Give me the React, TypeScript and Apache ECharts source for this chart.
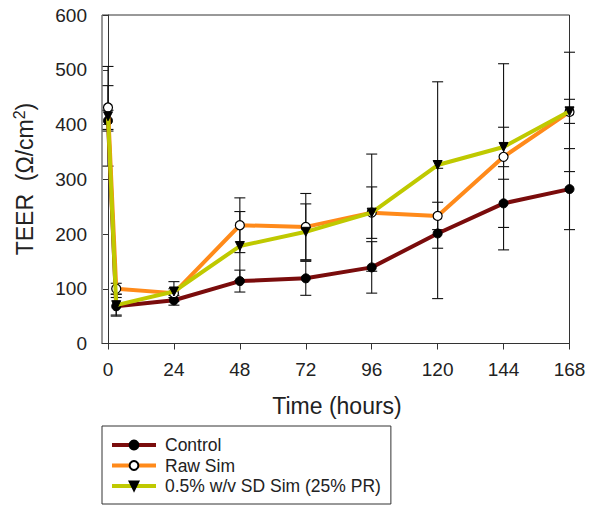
import React, { useEffect, useRef } from "react";
import * as echarts from "echarts";

const times = [0, 3, 24, 48, 72, 96, 120, 144, 168];
const xTicks = [0, 24, 48, 72, 96, 120, 144, 168];

const controlMean = [407, 68, 79, 114, 119, 139, 201, 256, 282];
const controlErr = [19, 16, 9, 20, 31, 47, 119, 44, 74];

const rawMean = [431, 100, 92, 216, 213, 239, 233, 341, 423];
const rawErr = [40, 10, 8, 50, 61, 47, 25, 170, 109];

const sdMean = [415, 70, 95, 178, 204, 239, 326, 359, 424];
const sdErr = [91, 20, 18, 63, 51, 107, 152, 36, 22];

const seriesNames = ["Control", "Raw Sim", "0.5% w/v SD Sim (25% PR)"];
const seriesColors = ["#7a0c0c", "#ff8a1a", "#bfc900"];

const FONT = "'Liberation Sans', Arial, sans-serif";

function errData(mean: number[], err: number[]) {
  return times.map((t, i) => [t, mean[i] - err[i], mean[i] + err[i]]);
}

function lineData(mean: number[]) {
  return times.map((t, i) => [t, mean[i]]);
}

const errorRender = (params: any, api: any) => {
  const x = api.value(0);
  const lo = api.value(1);
  const hi = api.value(2);
  const top = api.coord([x, hi]);
  const bot = api.coord([x, lo]);
  const hw = 5.5;
  const st = { stroke: "#111", lineWidth: 1.1 };
  return {
    type: "group",
    children: [
      { type: "line", shape: { x1: top[0], y1: top[1], x2: bot[0], y2: bot[1] }, style: st },
      { type: "line", shape: { x1: top[0] - hw, y1: top[1], x2: top[0] + hw, y2: top[1] }, style: st },
      { type: "line", shape: { x1: bot[0] - hw, y1: bot[1], x2: bot[0] + hw, y2: bot[1] }, style: st },
    ],
  };
};

export default function App() {
  const ref = useRef<HTMLDivElement>(null);
  useEffect(() => {
    if (!ref.current) return;
    const chart = echarts.init(ref.current, null, { renderer: "svg" });
    const means = [controlMean, rawMean, sdMean];
    const errs = [controlErr, rawErr, sdErr];
    const symbols = ["circle", "circle", "triangle"];
    const itemStyles = [
      { color: "#000", borderColor: "#000", borderWidth: 1 },
      { color: "#fff", borderColor: "#000", borderWidth: 1.2 },
      { color: "#000", borderColor: "#000", borderWidth: 1 },
    ];
    const errSeries = means.map((m, i) => ({
      type: "custom",
      name: "err" + i,
      renderItem: errorRender,
      data: errData(m, errs[i]),
      encode: { x: 0, y: [1, 2] },
      z: 1,
      silent: true,
    }));
    const lineSeries = means.map((m, i) => ({
      type: "line",
      name: seriesNames[i],
      data: lineData(m),
      symbol: symbols[i],
      symbolRotate: i === 2 ? 180 : 0,
      symbolSize: i === 2 ? 9 : 9,
      showSymbol: true,
      lineStyle: { color: seriesColors[i], width: 4 },
      itemStyle: itemStyles[i],
      z: 2 + i,
    }));
    chart.setOption({
      animation: false,
      backgroundColor: "#fff",
      grid: {
        left: 102,
        right: 25.5,
        top: 15,
        bottom: 169.5,
        show: true,
        borderColor: "#333",
        borderWidth: 1,
        backgroundColor: "transparent",
      },
      xAxis: {
        type: "value",
        min: -2.18,
        max: 168,
        splitLine: { show: false },
        axisLine: { lineStyle: { color: "#333", width: 1 } },
        axisTick: {
          show: true,
          inside: false,
          length: 6,
          customValues: xTicks,
          lineStyle: { color: "#333" },
        },
        axisLabel: {
          customValues: xTicks,
          margin: 16,
          fontSize: 19,
          fontFamily: FONT,
          color: "#222",
        },
      },
      yAxis: {
        type: "value",
        min: 0,
        max: 600,
        interval: 100,
        splitLine: { show: false },
        axisLine: { show: true, lineStyle: { color: "#333", width: 1 } },
        axisTick: { show: true, inside: false, length: 5, lineStyle: { color: "#333" } },
        axisLabel: { margin: 15, fontSize: 19, fontFamily: FONT, color: "#222" },
      },
      legend: {
        data: seriesNames,
        orient: "vertical",
        left: 102,
        top: 426,
        backgroundColor: "#fff",
        borderColor: "#333",
        borderWidth: 1,
        borderRadius: 0,
        padding: [10, 10, 9, 8],
        itemWidth: 44,
        itemHeight: 11,
        itemGap: 2.5,
        lineStyle: { width: 4 },
        textStyle: {
          fontSize: 17.5,
          fontFamily: FONT,
          color: "#222",
          lineHeight: 18,
          padding: [0, 0, 0, 4],
        },
      },
      graphic: [
        {
          type: "text",
          x: 337,
          y: 406,
          style: {
            text: "Time (hours)",
            fontSize: 23,
            fontFamily: FONT,
            fill: "#222",
            align: "center",
            verticalAlign: "middle",
          },
        },
        {
          type: "text",
          x: 25,
          y: 179,
          rotation: Math.PI / 2,
          style: {
            text: "TEER  (Ω/cm{sup|2})",
            fontSize: 23,
            fontFamily: FONT,
            fill: "#222",
            align: "center",
            verticalAlign: "middle",
            lineHeight: 28,
            rich: {
              sup: { fontSize: 16, fontFamily: FONT, fill: "#222", verticalAlign: "top", lineHeight: 16 },
            },
          },
        },
      ],
      series: [...errSeries, ...lineSeries],
    });
    return () => chart.dispose();
  }, []);
  return (
    <div
      ref={ref}
      style={{ position: "fixed", left: 0, top: 0, width: 595, height: 513 }}
    />
  );
}
